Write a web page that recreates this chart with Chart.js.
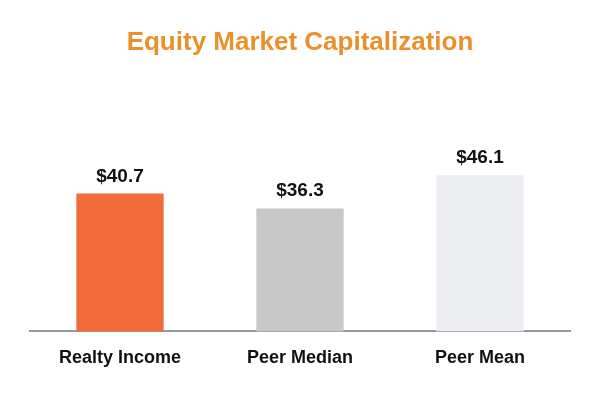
<!DOCTYPE html>
<html>
<head>
<meta charset="utf-8">
<script src="https://cdn.jsdelivr.net/npm/chart.js@4"></script>
<style>
  html, body { margin: 0; padding: 0; background: #fff; }
  #wrap { width: 600px; height: 400px; }
</style>
</head>
<body>
<div id="wrap"><canvas id="chart"></canvas></div>
<script>
const categories = ['Realty Income', 'Peer Median', 'Peer Mean'];
const values = [40.7, 36.3, 46.1];
const barColors = ['#F26B3A', '#C8C8C8', '#ECEDF0'];

// draws the $ labels above each bar
const valueLabels = {
  id: 'valueLabels',
  afterDatasetsDraw(chart) {
    const c = chart.ctx;
    const meta = chart.getDatasetMeta(0);
    c.save();
    c.font = 'bold 19px "Liberation Sans", Arial, sans-serif';
    c.fillStyle = '#111';
    c.textAlign = 'center';
    c.textBaseline = 'alphabetic';
    meta.data.forEach((bar, i) => {
      c.fillText('$' + values[i].toFixed(1), bar.x, bar.y - 12);
    });
    c.restore();
  }
};

var ctx = document.getElementById('chart').getContext('2d');
var myChart = new Chart(ctx, {
  type: 'bar',
  data: {
    labels: categories,
    datasets: [{
      data: values,
      backgroundColor: barColors,
      borderWidth: 0,
      barPercentage: 0.485,
      categoryPercentage: 1
    }]
  },
  options: {
    responsive: true,
    maintainAspectRatio: false,
    animation: false,
    layout: {
      padding: { left: 30, right: 30, bottom: 15, top: 0 }
    },
    plugins: {
      legend: { display: false },
      tooltip: { enabled: false },
      title: {
        display: true,
        text: 'Equity Market Capitalization',
        color: '#E8912D',
        font: { family: '"Liberation Sans", Arial, sans-serif', size: 26, weight: 'bold' },
        padding: { top: 27, bottom: 70 }
      }
    },
    scales: {
      x: {
        grid: { display: false, drawTicks: false },
        border: { color: '#9A9A9A', width: 2 },
        ticks: {
          color: '#111',
          padding: 16,
          font: { family: '"Liberation Sans", Arial, sans-serif', size: 18, weight: 'bold' }
        }
      },
      y: {
        display: false,
        min: 0,
        max: 60
      }
    }
  },
  plugins: [valueLabels]
});
</script>
</body>
</html>
